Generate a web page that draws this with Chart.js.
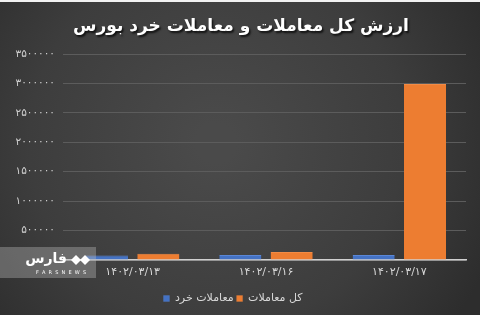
<!DOCTYPE html>
<html>
<head>
<meta charset="utf-8">
<script src="https://cdn.jsdelivr.net/npm/chart.js@4.4.1/dist/chart.umd.min.js"></script>
<style>
  html, body { margin: 0; padding: 0; background: #f2f2f2; }
  #wrap { position: absolute; left: 0; top: 2px; width: 480px; height: 313px; }
</style>
</head>
<body>
<div id="wrap"><canvas id="c" width="480" height="313"></canvas></div>
<script>
// Trading dates (Solar Hijri)
const categories = ['۱۴۰۲/۰۳/۱۳', '۱۴۰۲/۰۳/۱۶', '۱۴۰۲/۰۳/۱۷'];
// Retail trades value
const retailTrades = [75000, 85000, 85000];
// Total trades value
const totalTrades = [105000, 135000, 2990000];
const seriesNames = ['معاملات خرد', 'کل معاملات'];
const chartTitle = 'ارزش کل معاملات و معاملات خرد بورس';
const yMax = 3500000;
const yStep = 500000;

const faDigits = '۰۱۲۳۴۵۶۷۸۹';
const toFa = s => String(s).replace(/\d/g, d => faDigits[d]);

const background = {
  id: 'background',
  beforeDraw(chart) {
    const { ctx, width, height } = chart;
    ctx.save();
    const g = ctx.createRadialGradient(width * 0.45, height * 0.45, 20, width * 0.45, height * 0.45, width * 0.62);
    g.addColorStop(0, '#4a4a4a');
    g.addColorStop(0.6, '#3d3d3d');
    g.addColorStop(1, '#2d2d2d');
    ctx.fillStyle = g;
    ctx.fillRect(0, 0, width, height);
    ctx.restore();
  }
};

const headline = {
  id: 'headline',
  afterDraw(chart) {
    const { ctx, width } = chart;
    ctx.save();
    ctx.font = 'bold 17px "DejaVu Sans", sans-serif';
    ctx.textAlign = 'center';
    ctx.textBaseline = 'middle';
    ctx.direction = 'rtl';
    ctx.shadowColor = 'rgba(0,0,0,0.75)';
    ctx.shadowOffsetX = 1.5;
    ctx.shadowOffsetY = 1.5;
    ctx.shadowBlur = 2;
    ctx.fillStyle = '#ffffff';
    ctx.fillText(chartTitle, width / 2 + 1, 25);
    ctx.restore();
  }
};

// Fars news agency watermark in the lower left corner
const watermark = {
  id: 'watermark',
  afterDraw(chart) {
    const { ctx } = chart;
    ctx.save();
    ctx.fillStyle = 'rgba(190,190,190,0.36)';
    ctx.fillRect(0, 245, 96, 31);
    ctx.fillStyle = '#ffffff';
    ctx.font = 'bold 14px "DejaVu Sans", sans-serif';
    ctx.textAlign = 'right';
    ctx.textBaseline = 'middle';
    ctx.direction = 'rtl';
    ctx.fillText('فارس', 67, 257);
    // emblem
    const dot = (x, y, r) => { ctx.beginPath(); ctx.moveTo(x, y - r); ctx.lineTo(x + r, y); ctx.lineTo(x, y + r); ctx.lineTo(x - r, y); ctx.closePath(); ctx.fill(); };
    dot(76, 258, 5);
    dot(85, 258, 5);
    ctx.direction = 'ltr';
    ctx.textAlign = 'center';
    ctx.font = '5px "DejaVu Sans", sans-serif';
    ctx.fillText('F  A  R  S  N  E  W  S', 61, 270.5);
    ctx.restore();
  }
};

new Chart(document.getElementById('c'), {
  type: 'bar',
  data: {
    labels: categories,
    datasets: [
      { label: seriesNames[0], data: retailTrades, backgroundColor: '#4472C4', borderColor: '#5b87d6', borderWidth: { top: 1 } },
      { label: seriesNames[1], data: totalTrades, backgroundColor: '#ED7D31', borderColor: '#f28b45', borderWidth: { top: 1 } }
    ]
  },
  options: {
    responsive: false,
    animation: false,
    devicePixelRatio: 1,
    categoryPercentage: 0.77,
    barPercentage: 0.82,
    layout: { padding: { top: 52, right: 14, bottom: 1, left: 0 } },
    plugins: {
      title: { display: false },
      tooltip: { enabled: false },
      legend: {
        position: 'bottom',
        labels: {
          color: '#d9d9d9',
          font: { family: '"DejaVu Sans", sans-serif', size: 11 },
          boxWidth: 6,
          boxHeight: 6,
          padding: 3
        }
      }
    },
    scales: {
      x: {
        grid: { display: false, drawTicks: false },
        border: { display: true, color: '#d0d0d0', width: 1.5 },
        ticks: {
          color: '#d9d9d9',
          font: { family: '"DejaVu Sans", sans-serif', size: 11 },
          padding: 6,
          maxRotation: 0
        },
        afterFit(scale) { scale.height = 30; }
      },
      y: {
        min: 0,
        max: yMax,
        grid: { color: '#5c5c5c', lineWidth: 1, tickLength: 3, tickColor: '#5c5c5c' },
        border: { display: false },
        ticks: {
          stepSize: yStep,
          color: '#d0d0d0',
          font: { family: '"DejaVu Sans", sans-serif', size: 10.5 },
          padding: 8,
          callback: v => (v === 0 ? '' : toFa(v))
        },
        afterFit(scale) { scale.width = 66; }
      }
    }
  },
  plugins: [background, headline, watermark]
});
</script>
</body>
</html>
